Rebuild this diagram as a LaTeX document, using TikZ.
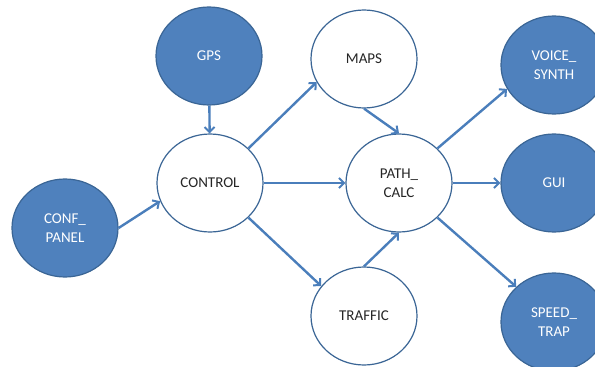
\documentclass[tikz,border=0pt]{standalone}
\usepackage{fontspec}
\setmainfont{Carlito}
\usetikzlibrary{shapes.geometric,arrows.meta}
\definecolor{boxblue}{HTML}{4F81BD}
\definecolor{edgeblue}{HTML}{3A6595}
\definecolor{arrblue}{HTML}{4A7EBB}

\begin{document}
\begin{tikzpicture}[x=1pt,y=-1pt,
   >={Straight Barb[length=5pt,width=10pt,line width=2pt]},
   proc/.style={ellipse,draw=edgeblue,line width=1.2pt,fill=white,
      minimum width=106pt,minimum height=98pt,inner sep=0pt,
      align=center,text=black!85,font=\fontsize{15}{18.5}\selectfont},
   dev/.style={proc,fill=boxblue,text=white}]
   \useasboundingbox (0,0) rectangle (595,367);

   \node[dev] (gps) at (209,56) {GPS};
   \node[proc] (ctrl) at (210,183) {CONTROL};
   \node[dev] (conf) at (65,228) {CONF\_\\PANEL};

   \node[proc] (maps) at (364,59) {MAPS};
   \node[proc] (path) at (399,183) {PATH\_\\CALC};
   \node[proc] (traffic) at (364,316) {TRAFFIC};

   \node[dev] (voice) at (554,65) {VOICE\_\\SYNTH};
   \node[dev] (gui) at (554,183) {GUI};
   \node[dev] (speed) at (554,322) {SPEED\_\\TRAP};

   \draw [arrblue,line width=2.4pt,->] (gps) -- (ctrl) ;
   \draw [arrblue,line width=2.4pt,->] (conf.east) -- (ctrl.200) ;
   \draw [arrblue,line width=2.4pt,->] (ctrl.42) -- (maps.206) ;
   \draw [arrblue,line width=2.4pt,->] (ctrl) -- (path) ;
   \draw [arrblue,line width=2.4pt,->] (ctrl.-42) -- (traffic.145) ;

   \draw [arrblue,line width=2.4pt,->] (maps.south) -- (path.north) ;
   \draw [arrblue,line width=2.4pt,->] (traffic.north) -- (path.south) ;

   \draw [arrblue,line width=2.4pt,->] (path.42) -- (voice.207) ;
   \draw [arrblue,line width=2.4pt,->] (path) -- (gui) ;
   \draw [arrblue,line width=2.4pt,->] (path.-42) -- (speed.137) ;
\end{tikzpicture}
\end{document}
